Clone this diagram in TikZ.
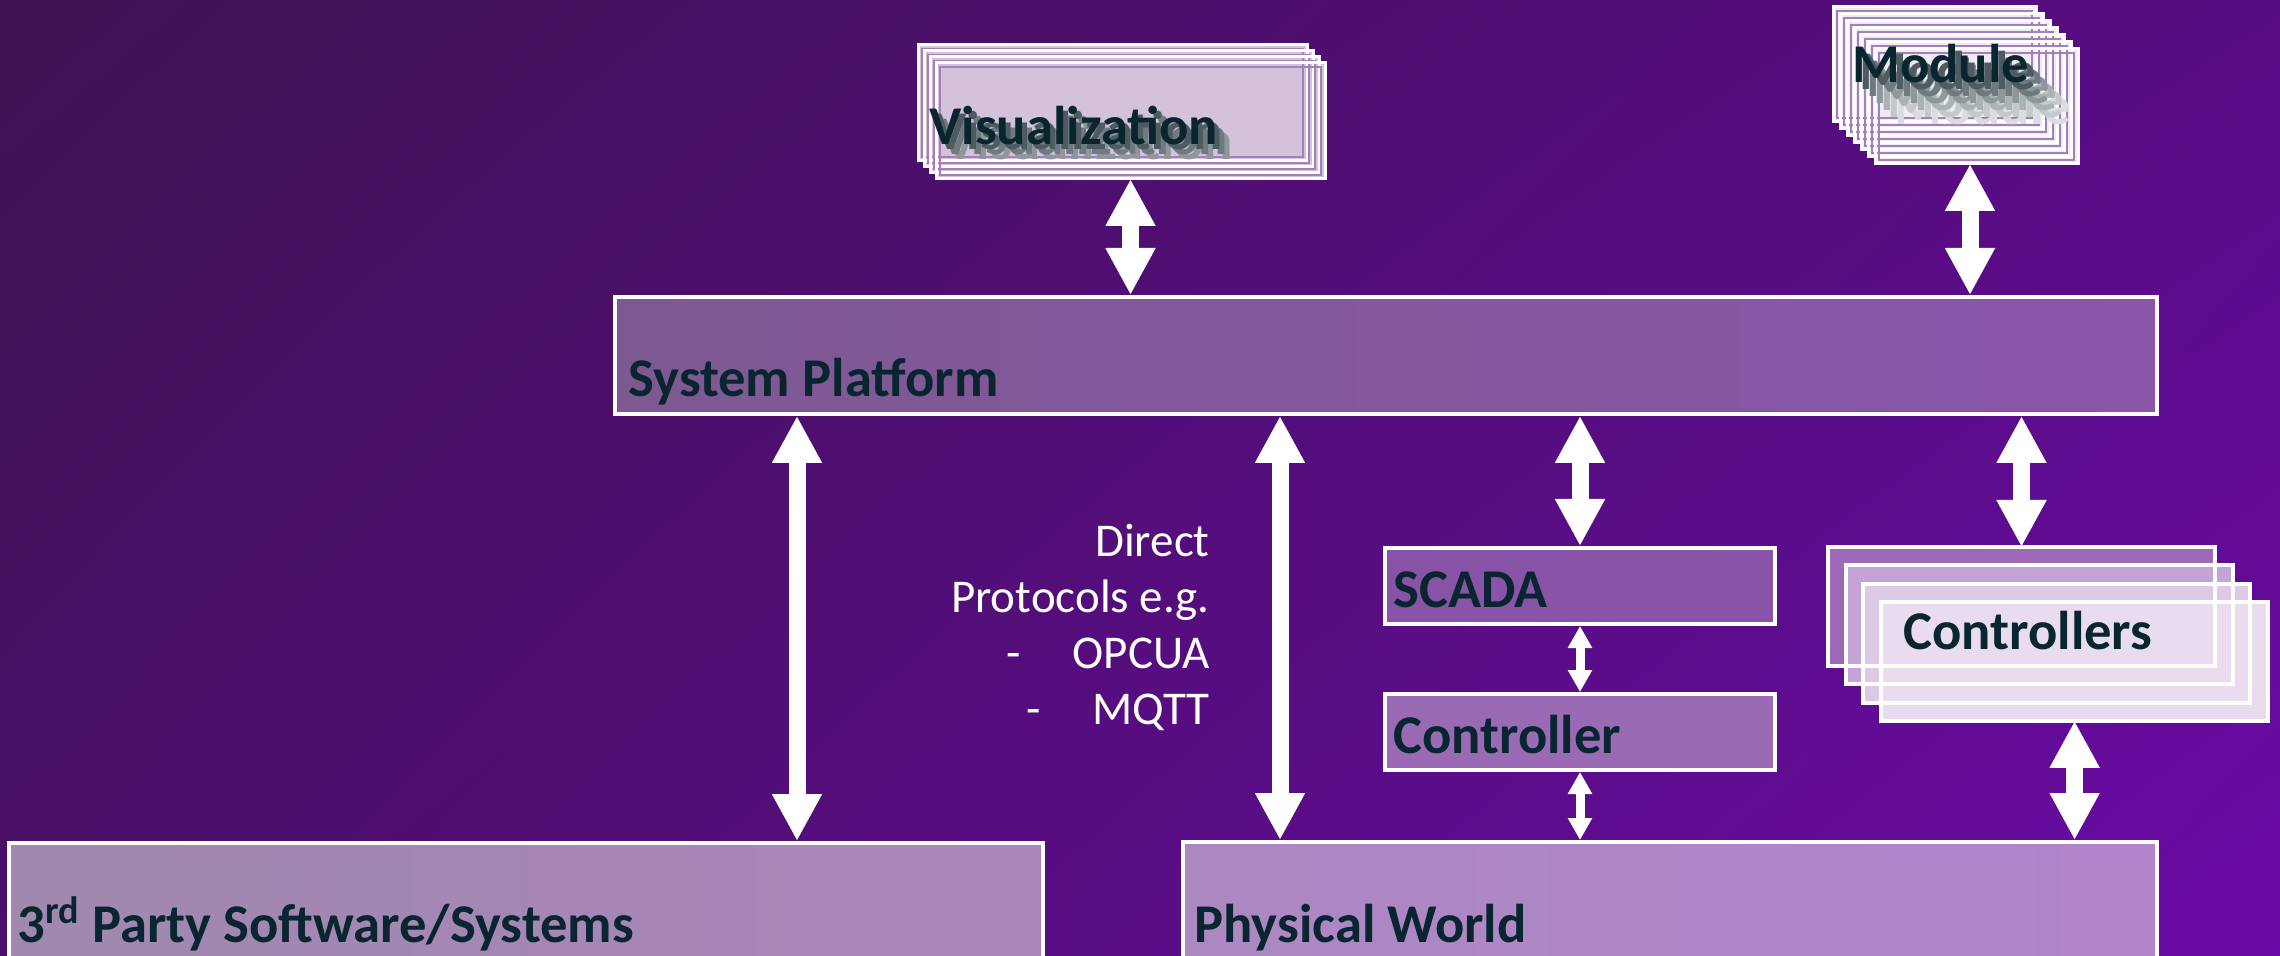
\documentclass[tikz,border=0pt]{standalone}
\usepackage{fontspec}
\setmainfont{Carlito}
\usepackage{tikz}
\usetikzlibrary{arrows.meta,positioning,shadings}

\definecolor{bgtl}{HTML}{3F1252}
\definecolor{bgtr}{HTML}{580C84}
\definecolor{bgbl}{HTML}{4A0F68}
\definecolor{bgbr}{HTML}{6A0AA6}
\definecolor{ink}{HTML}{082530}
\definecolor{lav}{HTML}{A47FB8}
\definecolor{sp1}{HTML}{7D5992}
\definecolor{sp2}{HTML}{8B55AA}
\definecolor{tp1}{HTML}{A088AE}
\definecolor{tp2}{HTML}{A985BC}
\definecolor{pw1}{HTML}{AC88C1}
\definecolor{pw2}{HTML}{B184CC}
\definecolor{scd}{HTML}{8954A7}
\definecolor{ctl}{HTML}{9A6BB4}
\definecolor{visfill}{HTML}{D3C2DA}
\definecolor{modfill}{HTML}{F0EAF3}
\definecolor{ctr0}{HTML}{9E6AB8}
\definecolor{ctr1}{HTML}{C4A4D6}
\definecolor{ctr2}{HTML}{DCC9E5}
\definecolor{ctr3}{HTML}{EADCEF}
\definecolor{shd1}{HTML}{4E5C62}
\definecolor{shd2}{HTML}{6E7A80}
\definecolor{shd3}{HTML}{8E989C}
\definecolor{shd4}{HTML}{AAB2B5}
\definecolor{shd5}{HTML}{C4C9CB}
\definecolor{shd6}{HTML}{DADDDE}

\begin{document}
\begin{tikzpicture}[x=0.5pt,y=-0.5pt,
  box/.style={draw=white,line width=2pt,anchor=north west,inner sep=0pt},
  sheet/.style={anchor=north west,inner sep=0pt,outer sep=0pt},
  lbl/.style={anchor=base west,inner sep=0pt,text=ink,font=\bfseries\fontsize{27.3}{30}\selectfont},
  note/.style={align=right,inner sep=0pt,text=white,font=\fontsize{23.5}{28}\selectfont},
  big/.style={draw=white,line width=8.5pt,{Triangle[width=23.5pt,length=23.5pt]}-{Triangle[width=23.5pt,length=23.5pt]}},
  small/.style={draw=white,line width=4.5pt,{Triangle[width=11.5pt,length=11pt]}-{Triangle[width=11.5pt,length=11pt]}}]

\useasboundingbox (0,0) rectangle (2280,956);
\clip (0,0) rectangle (2280,956);
\shade[upper left=bgtl,upper right=bgtr,lower left=bgbl,lower right=bgbr] (0,0) rectangle (2280,956);

% main layers
\node[box,minimum width=771pt,minimum height=58.5pt,left color=sp1,right color=sp2] (sp) at (613,295) {};
\node[box,minimum width=517pt,minimum height=65pt,left color=tp1,right color=tp2] (tp) at (7,841) {};
\node[box,minimum width=487pt,minimum height=65pt,left color=pw1,right color=pw2] (pw) at (1181,840) {};
\node[box,minimum width=195pt,minimum height=38pt,fill=scd] (scada) at (1383,546) {};
\node[box,minimum width=195pt,minimum height=38pt,fill=ctl] (ctrl) at (1383,692) {};

\node[lbl] at ([xshift=7.5pt,yshift=-51pt]sp.north west) {System Platform};
\node[lbl] at ([xshift=5pt,yshift=-50.5pt]tp.north west) {3\textsuperscript{rd} Party Software/Systems};
\node[lbl] at ([xshift=6.5pt,yshift=-51pt]pw.north west) {Physical World};
\node[lbl] at ([xshift=5pt,yshift=-30.5pt]scada.north west) {SCADA};
\node[lbl] at ([xshift=5pt,yshift=-30.5pt]ctrl.north west) {Controller};

% visualization stack
\foreach \i in {0,...,3}
  \node[sheet,minimum width=194.5pt,minimum height=58pt,fill=visfill] (vis\i) at (918+6*\i,45+6*\i) {};
\foreach \i in {0,...,3} {
  \draw[white,line width=1.5pt] (vis\i.north west) rectangle (vis\i.south east);
  \draw[lav,line width=0.8pt] ([shift={(2pt,-2pt)}]vis\i.north west) rectangle ([shift={(-2pt,2pt)}]vis\i.south east);
}
\foreach \d/\c in {7.5/shd3,5/shd2,2.5/shd1}
  \node[lbl,text=\c] at ([xshift=5.5pt+\d pt,yshift=-50pt-\d pt]vis0.north west) {Visualization};
\node[lbl] at ([xshift=5.5pt,yshift=-50pt]vis0.north west) {Visualization};

% module stack
\foreach \i in {0,...,6}
  \node[sheet,minimum width=101.5pt,minimum height=57.5pt,fill=modfill] (mod\i) at (1833+7*\i,7+7*\i) {};
\foreach \i in {0,...,6} {
  \draw[white,line width=1.5pt] (mod\i.north west) rectangle (mod\i.south east);
  \draw[lav,line width=0.8pt] ([shift={(2pt,-2pt)}]mod\i.north west) rectangle ([shift={(-2pt,2pt)}]mod\i.south east);
}
\foreach \d/\c in {21/shd6,17.5/shd5,14/shd4,10.5/shd3,7/shd2,3.5/shd1}
  \node[lbl,text=\c] at ([xshift=9.5pt+\d pt,yshift=-38pt-\d pt]mod0.north west) {Module};
\node[lbl] at ([xshift=9.5pt,yshift=-38pt]mod0.north west) {Module};

% controllers stack
\foreach \i in {0,...,3}
  \node[sheet,minimum width=193.5pt,minimum height=59.5pt,fill=ctr\i] (ctrs\i) at (1828+17.7*\i,547+18.3*\i) {};
\foreach \i in {0,...,3}
  \draw[white,line width=2pt] (ctrs\i.north west) rectangle (ctrs\i.south east);
\node[lbl] at ([xshift=11pt,yshift=-24pt]ctrs3.north west) {Controllers};

\node[note,anchor=north east] (dp) at (1210,524) {Direct\\Protocols e.g.\\-\hspace{26pt}OPCUA\\-\hspace{26pt}MQTT};

% connectors
\draw[big] (vis3.south) -- (vis3.south |- sp.north);
\draw[big] (1970,0 |- mod6.south) -- (1970,0 |- sp.north);
\draw[big] (797,0 |- sp.south) -- (797,0 |- tp.north);
\draw[big] (1280,0 |- sp.south) -- (1280,0 |- pw.north);
\draw[big] (scada.north |- sp.south) -- (scada.north);
\draw[big] (ctrs0.north |- sp.south) -- (ctrs0.north);
\draw[big] (ctrs3.south) -- (ctrs3.south |- pw.north);
\draw[small] (scada.south) -- (ctrl.north);
\draw[small] (ctrl.south) -- (ctrl.south |- pw.north);
\end{tikzpicture}
\end{document}
